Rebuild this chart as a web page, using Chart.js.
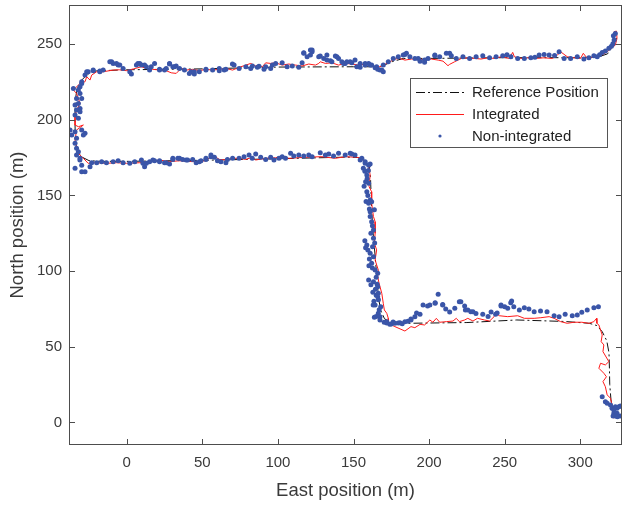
<!DOCTYPE html>
<html>
<head>
<meta charset="utf-8">
<script src="https://cdn.jsdelivr.net/npm/chart.js@4.4.0/dist/chart.umd.min.js"></script>
<style>
  html, body { margin: 0; padding: 0; background: #fff; }
  #wrap { width: 626px; height: 505px; }
</style>
</head>
<body>
<div id="wrap"><canvas id="track" width="626" height="505"></canvas></div>
<script>
// Axis limits and tick values (metres)
const xLimits = [-38.2, 327.6];
const yLimits = [-14.9, 275.8];
const xTickValues = [0, 50, 100, 150, 200, 250, 300];
const yTickValues = [0, 50, 100, 150, 200, 250];

const seriesLabels = ["Reference Position", "Integrated", "Non-integrated"];

// Reference trajectory [east, north]
const referencePath = [
  [324,254],[322,249],[318,243.5],[312,241.5],[300,241],[250,241],[200,240.5],[183,240.5],
  [176,238.5],[170,236],[164,235],[150,235],[100,234.8],[50,233.6],[0,233],[-20,232.3],
  [-26,230],[-30,226],[-33,220],[-34,213],[-34.3,200],[-34,188],[-33,180],[-30,175.5],
  [-25,173],[-18,172.5],[0,172.5],[50,173.2],[100,174.2],[145,175.3],[153,175],[158,173],
  [160.5,169],[161.3,160],[162,140],[163,125],[164.3,110],[165.5,95],[166.6,82],[168,74],
  [170.5,68.5],[175,66],[185,65.5],[225,66],[258,67.7],[290,66.7],[306,65.5],[311,64],
  [314.5,60],[317.5,54],[319,46],[319.3,35],[319.5,25],[320.3,15],[321.5,7],[322.5,3]
];

// Integrated solution [east, north]
const integratedPath = [
  [322.2,258.1],[323.9,258.6],[324.3,253.8],[323.2,249.3],[321,247.6],[317.8,244.9],[313.4,242.2],
  [309,241.6],[304.6,240.5],[302,243.9],[300.2,240.5],[295.8,240.9],[291.4,241.6],[287,244.9],
  [284.9,242.7],[281.6,240.5],[276.1,240.9],[269.5,240.5],[265.1,240.9],[260.7,240.5],[256.4,241.6],
  [255.3,244.5],[253.1,240.5],[247.6,241.6],[243.2,240.5],[238.8,240.9],[234.4,240.1],[230,240.5],
  [225.6,240.9],[221.3,240.5],[216.9,238.3],[213.6,236.6],[212.5,235.7],[209.2,238.7],[206,239.4],
  [201.5,240.1],[197,239.4],[192.8,240.5],[188.4,240.1],[184,239.4],[180.7,240.5],[177.4,240.1],
  [174.1,238.3],[170.8,236.6],[167.5,235],[164.3,235],[161,236.1],[157.7,236.8],[153.3,236.1],
  [148.9,236.8],[144.5,237.2],[140.1,236.1],[135.7,237.6],[131.4,237.2],[128,238.3],[127,237.2],
  [124.8,236.1],[120.4,236.8],[116,235.5],[111.6,236.1],[107.2,236.8],[102.8,236.1],[98.5,237.6],
  [95.2,237.2],[91.9,237.6],[89.7,235],[85.3,235.5],[82,237.2],[78.8,236.1],[74.3,234.6],[70,232.8],
  [65.6,233.9],[61.2,233.3],[56.8,232.8],[52.4,233.3],[48,232.4],[43.6,233.3],[39.3,232.8],[36,233.9],
  [32.7,230.6],[29.4,231],[26.1,232.4],[21.7,232.8],[17.3,233.3],[13,233.9],[9.7,235],[4.5,233.6],
  [-0.2,232.4],[-4.8,233],[-9,232.8],[-15.6,231.7],[-19.9,231.7],[-23.2,229.5],[-24.3,226.2],
  [-26.5,228.4],[-27.6,225.1],[-30.9,224],[-34.2,220.7],[-35.3,219.6],[-33.2,217.4],[-32,214.1],
  [-30.9,210.8],[-33.2,206.4],[-34.2,202],[-34.2,196.5],[-32,195.4],[-28.7,196.5],[-33.2,193.2],
  [-34.2,186.6],[-33.2,182.2],[-32,177.8],[-28.7,174.5],[-25.5,171.2],[-19.9,171.6],[-13.4,171.2],
  [-6.8,171.6],[-0.2,171.2],[8.6,171.6],[15.1,172.3],[21.7,173.4],[28.3,172.3],[34.9,172.9],
  [43.6,172.3],[52.4,172.9],[56.8,176.7],[61.2,173.8],[65.6,173.4],[70,174.5],[74.3,174.5],
  [78.8,173.8],[83,175.2],[85.3,173.4],[91.9,174.5],[98.5,174.9],[102.8,176],[107.2,174.5],
  [118.2,175.2],[129.1,175.6],[138,174.5],[144.5,175.6],[152.2,175.2],[155.5,174.5],[157.7,171.2],
  [160,169],[161,163.5],[160.3,155.7],[162,152.4],[162,144.8],[163.2,136],[164.3,132.6],[164.3,125],
  [163.8,118.4],[165.3,114],[164.3,107.3],[166.4,100.7],[166,96.3],[166.9,92],[168.7,85.3],
  [169.7,78.7],[170.4,74.3],[172,72.1],[173,68.8],[173,65.5],[177.4,63.3],[184,60.4],[188,63.3],
  [190.6,62.6],[194,64.8],[197,64.4],[200.5,67.7],[202.5,66.2],[204.8,68.8],[207,66.2],[211.4,66.6],
  [215.8,67],[218,68.8],[220,66.6],[223.5,67.7],[225.6,68.8],[229,67],[232,68.8],[236.6,67.7],
  [240,67],[243,69.9],[244,72.1],[246.5,70.5],[252,69.9],[258.6,70.5],[263,68.8],[269.5,68.8],
  [273.9,69.2],[279.4,69.9],[282.7,68.8],[287,66.6],[291.4,65.5],[295.8,66.2],[301,66.2],
  [305.7,65.5],[309,66.6],[310.8,68.8],[311,65.5],[312.3,64.4],[313.4,61.1],[314.5,57.8],
  [313.8,53.4],[315.6,51.2],[315,46.8],[318.9,40.2],[316.6,38],[313.4,39.1],[312.3,35.8],
  [315.6,32.5],[317.3,30.2],[315,27],[316.6,23.6],[317.8,18.2],[320,16],[321,11.6],[321.7,8.3],
  [323.2,3.8],[322.2,2.8]
];

// Stand-alone position fixes [east, north]
const nonIntegratedFixes = [
  // north-east corner and upper leg
  [323.2,257],[321.9,255.5],[322.4,252.6],[321.6,250.2],[320.6,248.6],[318.9,247.2],[316.6,245.4],
  [314.5,244.5],[312.8,242.9],[311.2,241.6],[309,242.2],[305.7,240.9],[302.4,240.1],[298,241.6],
  [293.6,240.5],[289.3,240.5],[286,244.9],[283,242.4],[279.4,242.7],[276.1,243.1],[272.8,242.7],
  [270,241.2],[267.3,240.9],[263,240.5],[258.6,240.5],[254.1,241.6],[251.5,242.9],[248.7,242.2],
  [244.3,241.6],[240,240.9],[235.5,242.2],[231.1,241.6],[226.8,240.5],[222.4,241.6],[218,240.5],
  [214.7,242.2],[213.6,243.9],[211.4,243.9],[207,241.6],[203.8,242.2],[203.8,242.7],[199.3,240.5],
  [197,237.9],[197,239.4],[194,238.7],[192.8,240.5],[190.6,240.5],[187.3,241.6],[185,243.9],
  [184,243.1],[182.9,242.7],[179.6,241.6],[176.3,240.5],[173,238.3],[169.7,236.1],[169.7,231.7],
  [168.7,232.8],[167.5,232.8],[166,233.3],[165.3,235],[164.3,234.3],[162,236.1],[161,236.1],
  [160,237.2],[157.7,237.2],[157.7,236.1],[154.4,234.6],[154.4,237.2],[152.2,235],[151,239.4],
  [148.9,237.6],[147.8,238.3],[145.6,238.3],[144.5,237.2],[143.4,237.2],[142.3,238.3],[140.1,240.5],
  [139,241.6],[138,242.1],[135.7,238.3],[134.7,239],[132.4,242.7],[132.4,239.4],[130.3,240.5],
  [128,242.1],[127,241.6],[122.6,246],[122.6,244.9],[121.5,242.7],[121.5,246],[119.3,241.6],
  [117.1,244.3],[117.1,243.9],[116,237.6],[113.8,234.6],[109.5,235.5],[106.1,235],[102.8,237.6],
  [98.5,237.2],[96.3,236.1],[95.2,233.9],[91.9,235],[90.8,233.3],[87.5,235.3],[86.4,234.6],
  [83.1,235.5],[82,233.9],[78.8,235],[74.3,233.9],[71,236.1],[69.9,236.8],[65.6,233.3],[64.5,232.8],
  [61.2,232.4],[61.2,233.9],[56.8,232.8],[52.4,233.3],[52.4,232.8],[48,231.7],[44.7,230.2],
  [44.7,231.7],[42.6,231.7],[41.4,230.6],[38.2,232.8],[34.9,233.9],[32.7,235.5],[31.6,235],
  [30.5,235],[28.3,236.8],[28.3,237.2],[26.1,233.9],[25,232.8],[21.7,233.3],[21.7,232.8],
  [18.4,237.2],[16.2,235],[15.1,232.8],[13,235],[11.8,236.1],[9.7,236.1],[8.6,237.2],[7.4,237.2],
  [6.4,236.1],[3.1,230.2],[2,231.7],[-2.4,233.9],[-4.6,236.1],[-5.7,236.1],[-6.8,237.2],[-9,237.2],
  [-10,238.3],[-11.2,238.3],[-15.6,232.8],[-17.8,232.2],[-17.8,231.7],[-22.2,232.8],[-22.2,232.4],
  [-25.5,231.7],[-26.5,231.7],[-27.6,229.5],
  // western leg
  [-29.8,225.1],[-29.8,224],[-30.9,221.8],[-32,219.6],[-35.3,220.7],[-30.9,217.4],[-33.2,214.1],
  [-29.8,214.1],[-32,210.8],[-34.2,209.7],[-30.9,207.5],[-33.2,206.4],[-30.9,205.3],[-34.2,203.1],
  [-32,200.9],[-37.5,193.2],[-34.2,192],[-36.4,189.9],[-29.8,193.2],[-27.6,191],[-28.7,189.9],
  [-33.2,187.7],[-34.2,184.4],[-33.2,181.1],[-32,178.9],[-33.2,176.7],[-30.9,174.5],[-31,173.4],
  [-29.8,170],[-34.2,167.9],[-29.8,165.7],[-27.6,165.7],[-24.3,169],
  // middle leg
  [-23.2,171.6],[-19.9,171.6],[-16.6,172.3],[-13.4,171.6],[-9,172.3],[-5.7,172.9],[-2.4,171.6],
  [2,171.2],[5.3,172.3],[9.7,173.4],[10.7,171.2],[11.8,169],[13,171.2],[15.1,172.3],[17.3,173.4],
  [18.4,172.9],[21.7,172.3],[21.7,172.9],[25,171.6],[26.1,171.6],[28.3,170.7],[30.5,173.8],
  [30.5,174.5],[33.8,174.5],[34.9,174.5],[37,173.8],[39.3,173.4],[40.3,173.4],[43.6,173.8],
  [45.9,171.6],[48,172.3],[49.1,172.9],[52.4,173.8],[52.4,174.5],[55.7,175.6],[55.7,176.7],
  [58,175.2],[60,172.9],[62.3,172.3],[65.6,171.6],[66.6,173.8],[70,174.5],[74.3,174.5],[77.6,175.6],
  [80.9,176.7],[83,174.5],[85.3,177.3],[88.6,175.2],[91.9,173.8],[95.2,175.2],[97.4,173.4],
  [100.7,174.5],[102.8,175.6],[105,174.5],[108.4,177.8],[110.5,176],[113.8,176.7],[117.1,176],
  [120.4,176.7],[122.6,175.6],[128,178.2],[131.4,176.7],[133.6,177.3],[136.8,176],[140.1,177.8],
  [144.5,176.7],[147.8,177.8],[148.9,177.3],[151,176.7],[154.4,173.4],[155.5,174.5],[157.7,171.2],
  [157.7,172.3],[160,170],[161,170.7],
  // descent near 160 m east
  [156.5,168],[159.8,166.5],[158.8,163.5],[157.5,166],[159,161],[158,159],[160,158],[157,156],
  [158.8,152.4],[159.5,150],[161,147],[158.3,146],[160,144.8],[162,145.8],[160.5,141],[163.8,140.5],
  [161,139.2],[161,136],[162,132.6],[162.5,130],[163.2,127.1],[161.5,125],[163.2,121.7],[164,118.5],
  [157.5,120],[158.8,117.2],[162.6,116],[158,115.5],[159.5,113.9],[161,111.8],[163.2,109.5],
  [160.5,108],[162,105.2],[160.2,103.5],[162.5,102],[164.3,100.7],[166,98.5],[165,96],[160,94.1],
  [163.2,93],[165.6,91.3],[161.5,91],[166,89.7],[164.5,88],[162.8,86],[165,84],[166.4,85.3],
  [166,83.1],[166.5,81],[163.5,80],[164.3,77.6],[163,77.6],[168,76.5],[167,74.5],[166.4,72.1],
  [165,70],[163.8,69.5],[167.5,69.9],[167.5,67.7],
  // lower leg
  [170.3,66.2],[172,65.7],[172,66.6],[174,64.8],[175,65],[176.2,66.4],[177.4,65.5],[179.6,65.7],
  [180.7,65.9],[182.2,65.2],[184,66.6],[186,66.9],[188,67.7],[188,68.3],[190.6,69.9],[191.7,72.3],
  [194,71.5],[196,77.6],[199,77],[200.5,77.6],[204,78.7],[204,79],[206,84.7],[209,78],[209,77.6],
  [211,75],[213.6,73],[217,75.4],[220,79.8],[221,79.8],[223.5,77],[224,74.3],[225.6,74.3],
  [227.6,73.2],[229,73.2],[231,72],[235.5,71.5],[239,70],[241,73],[244,71.5],[245,72.3],[247.6,77.6],
  [247.6,76.9],[250,76.5],[252,75.4],[254,79],[254.6,80.3],[256,76.5],[259.7,74.3],[263,75.8],
  [266,75],[269.5,73.2],[273.7,73.6],[278,73.2],[282.7,70.5],[286,69.9],[290,71.5],[294.7,70.5],
  [298,71],[301,72.8],[304.6,74.3],[309,75.8],[312,76.5],
  // south-east end
  [314.5,17],[316.6,13.7],[317.8,12.7],[320,11.6],[321,9.4],[323.2,10.4],[324.3,9.4],[325.5,10.4],
  [326.5,10.9],[322.2,8.3],[322.2,6.1],[324.3,6.1],[323.2,4.3],[321.7,4.3],[326.5,4.3],[324.6,3.8]
];

function toPoints(list) {
  return list.map(p => ({ x: p[0], y: p[1] }));
}

const refColor = "#111111";
const integratedColor = "#ff1a1a";
const fixColor = "#3a55a8";
const axisColor = "#4d4d4d";
const textColor = "#3a3a3a";
const fontFamily = "'Liberation Sans', Arial, Helvetica, sans-serif";
const tickLen = 6;

// Full box round the axes with inward ticks on all four sides
const boxPlugin = {
  id: "axesBox",
  afterDatasetsDraw(chart) {
    const { ctx, chartArea: a, scales } = chart;
    ctx.save();
    ctx.strokeStyle = axisColor;
    ctx.lineWidth = 1;
    ctx.strokeRect(Math.round(a.left) + 0.5, Math.round(a.top) + 0.5,
      Math.round(a.right - a.left) - 1, Math.round(a.bottom - a.top) - 1);
    ctx.beginPath();
    xTickValues.forEach(v => {
      const px = Math.round(scales.x.getPixelForValue(v)) + 0.5;
      ctx.moveTo(px, a.bottom); ctx.lineTo(px, a.bottom - tickLen);
      ctx.moveTo(px, a.top); ctx.lineTo(px, a.top + tickLen);
    });
    yTickValues.forEach(v => {
      const py = Math.round(scales.y.getPixelForValue(v)) + 0.5;
      ctx.moveTo(a.left, py); ctx.lineTo(a.left + tickLen, py);
      ctx.moveTo(a.right, py); ctx.lineTo(a.right - tickLen, py);
    });
    ctx.stroke();
    ctx.restore();
  }
};

// Boxed legend in the upper right of the plot
const legendKeys = [
  { kind: "line", color: refColor, dash: [9, 3, 2, 3] },
  { kind: "line", color: integratedColor, dash: [] },
  { kind: "dot", color: fixColor }
];
const legendPlugin = {
  id: "boxLegend",
  afterDraw(chart) {
    const { ctx, chartArea: a } = chart;
    const right = a.right - 15, top = a.top + 73;
    const width = 197, rowH = 22, height = rowH * 3 + 3;
    const left = right - width;
    ctx.save();
    ctx.fillStyle = "#fff";
    ctx.fillRect(left, top, width, height);
    ctx.strokeStyle = "#555";
    ctx.lineWidth = 1;
    ctx.strokeRect(left + 0.5, top + 0.5, width, height);
    ctx.font = "15px " + fontFamily;
    ctx.textBaseline = "middle";
    chart.data.datasets.forEach((ds, i) => {
      const key = legendKeys[i];
      const cy = top + 14 + i * rowH;
      const x0 = left + 6, x1 = left + 54;
      if (key.kind === "line") {
        ctx.strokeStyle = key.color;
        ctx.lineWidth = 1;
        ctx.setLineDash(key.dash);
        ctx.beginPath();
        ctx.moveTo(x0, Math.round(cy) + 0.5);
        ctx.lineTo(x1, Math.round(cy) + 0.5);
        ctx.stroke();
        ctx.setLineDash([]);
      } else {
        ctx.fillStyle = key.color;
        ctx.beginPath();
        ctx.arc((x0 + x1) / 2, cy, 1.6, 0, Math.PI * 2);
        ctx.fill();
      }
      ctx.fillStyle = "#222";
      ctx.fillText(ds.label, left + 62, cy + 1);
    });
    ctx.restore();
  }
};

const tickFont = { family: fontFamily, size: 15 };
const titleFont = { family: fontFamily, size: 18.5 };

new Chart(document.getElementById("track"), {
  type: "scatter",
  data: {
    datasets: [
      {
        label: seriesLabels[0],
        data: toPoints(referencePath),
        showLine: true,
        borderColor: refColor,
        borderWidth: 1,
        borderDash: [9, 3, 2, 3],
        pointRadius: 0,
        order: 2
      },
      {
        label: seriesLabels[1],
        data: toPoints(integratedPath),
        showLine: true,
        borderColor: integratedColor,
        borderWidth: 1,
        pointRadius: 0,
        order: 1
      },
      {
        label: seriesLabels[2],
        data: toPoints(nonIntegratedFixes),
        showLine: false,
        backgroundColor: fixColor,
        borderWidth: 0,
        pointRadius: 2.5,
        order: 0
      }
    ]
  },
  options: {
    responsive: false,
    animation: false,
    layout: { padding: { top: 5, right: 1, left: 0, bottom: 0 } },
    plugins: { legend: { display: false }, tooltip: { enabled: false } },
    scales: {
      x: {
        type: "linear",
        min: xLimits[0],
        max: xLimits[1],
        afterBuildTicks: s => { s.ticks = xTickValues.map(v => ({ value: v })); },
        afterFit: s => { s.height = 60; s.paddingLeft = 0; s.paddingRight = 0; },
        grid: { display: false, drawTicks: false },
        border: { display: false },
        ticks: { font: tickFont, color: textColor, padding: 9, maxRotation: 0 },
        title: { display: true, text: "East position (m)", font: titleFont, color: textColor,
                 padding: { top: 0, bottom: 3 } }
      },
      y: {
        type: "linear",
        min: yLimits[0],
        max: yLimits[1],
        afterBuildTicks: s => { s.ticks = yTickValues.map(v => ({ value: v })); },
        afterFit: s => { s.width = 69; s.paddingTop = 0; s.paddingBottom = 0; },
        grid: { display: false, drawTicks: false },
        border: { display: false },
        ticks: { font: tickFont, color: textColor, padding: 7 },
        title: { display: true, text: "North position (m)", font: titleFont, color: textColor,
                 padding: { top: 7, bottom: 0 } }
      }
    }
  },
  plugins: [boxPlugin, legendPlugin]
});
</script>
</body>
</html>
